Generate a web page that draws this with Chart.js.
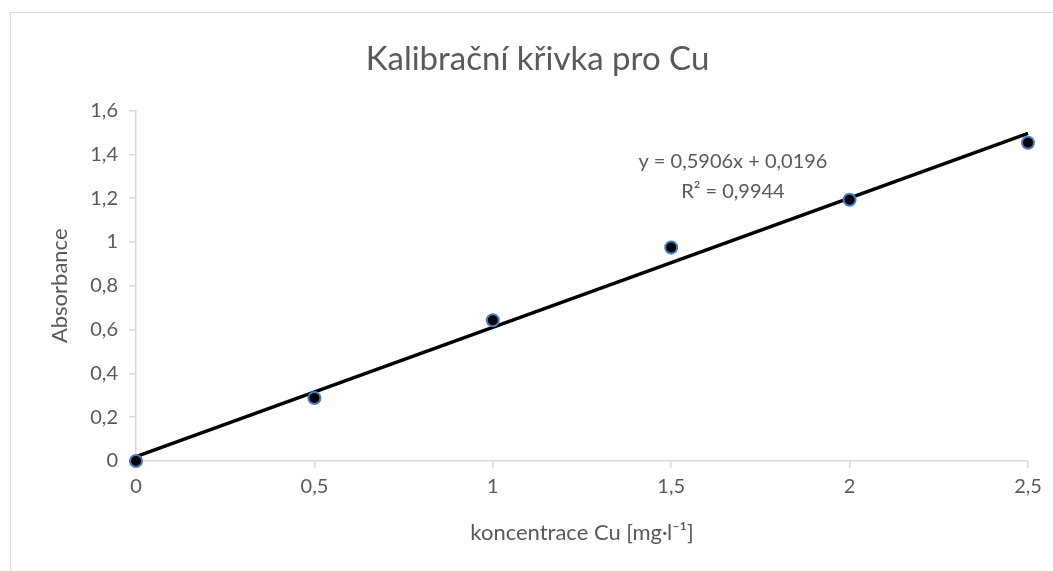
<!DOCTYPE html>
<html lang="cs">
<head>
<meta charset="UTF-8">
<title>Kalibrační křivka pro Cu</title>
<script src="https://cdn.jsdelivr.net/npm/chart.js"></script>
<style>
    html, body { margin: 0; padding: 0; background: #fff; overflow: hidden; }
    #frame {
        position: absolute; left: 10px; top: 12px;
        width: 1060px; height: 580px;
        border: 1px solid #d9d9d9;
    }
    #wrap { position: absolute; left: 0; top: 0; width: 1053px; height: 571px; }
</style>
</head>
<body>
<div id="frame"></div>
<div id="wrap"><canvas id="chart"></canvas></div>
<script>
// measured points
const conc = [0, 0.5, 1, 1.5, 2, 2.5];
const absorb = [0, 0.288, 0.643, 0.975, 1.193, 1.453];
// linear trendline endpoints (y = 0,5906x + 0,0196)
const trendX = [0, 2.5];
const trendY = [0.0196, 1.4961];
const eqLines = ['y = 0,5906x + 0,0196', 'R² = 0,9944'];

const grey = '#595959';
const axisGrey = '#d9d9d9';
const fontFam = 'Lato, "Open Sans", sans-serif';

const eqLabel = {
    id: 'eqLabel',
    afterDatasetsDraw(chart) {
        const { ctx, scales } = chart;
        const cx = scales.x.getPixelForValue(1.673);
        ctx.save();
        ctx.fillStyle = grey;
        ctx.font = '20px ' + fontFam;
        ctx.textAlign = 'center';
        ctx.textBaseline = 'middle';
        ctx.fillText(eqLines[0], cx, scales.y.getPixelForValue(1.367));
        ctx.fillText(eqLines[1], cx, scales.y.getPixelForValue(1.23));
        ctx.restore();
    }
};

new Chart(document.getElementById('chart'), {
    type: 'scatter',
    data: {
        datasets: [
            {
                label: 'trend',
                data: trendX.map((x, i) => ({ x: x, y: trendY[i] })),
                showLine: true,
                borderColor: '#000',
                borderWidth: 3.5,
                pointRadius: 0,
                clip: false,
                order: 2
            },
            {
                label: 'Absorbance',
                data: conc.map((x, i) => ({ x: x, y: absorb[i] })),
                backgroundColor: '#000',
                borderColor: '#4a7bc0',
                borderWidth: 2,
                pointRadius: 6,
                clip: false,
                order: 1
            }
        ]
    },
    options: {
        responsive: true,
        maintainAspectRatio: false,
        animation: false,
        layout: { padding: { left: 47, right: 25, top: 0, bottom: 25 } },
        plugins: {
            legend: { display: false },
            tooltip: { enabled: false },
            title: {
                display: true,
                text: 'Kalibrační křivka pro Cu',
                color: grey,
                font: { family: fontFam, size: 33, weight: 'normal' },
                padding: { top: 40, bottom: 31 }
            }
        },
        scales: {
            x: {
                type: 'linear',
                min: 0, max: 2.5,
                afterFit: s => { s.height = 85; },
                border: { color: axisGrey, width: 1.5 },
                grid: { drawOnChartArea: false, drawTicks: true, tickLength: 7, color: axisGrey, lineWidth: 1.5 },
                ticks: {
                    stepSize: 0.5,
                    color: grey,
                    font: { family: fontFam, size: 20 },
                    padding: 7,
                    callback: v => String(v).replace('.', ',')
                },
                title: {
                    display: true,
                    text: 'koncentrace Cu [mg·l⁻¹]',
                    color: grey,
                    font: { family: fontFam, size: 22 },
                    padding: { top: 10, bottom: 0 }
                }
            },
            y: {
                min: 0, max: 1.6,
                afterFit: s => { s.width = 89; },
                border: { color: axisGrey, width: 1.5 },
                grid: { drawOnChartArea: false, drawTicks: true, tickLength: 7, color: axisGrey, lineWidth: 1.5 },
                ticks: {
                    stepSize: 0.2,
                    color: grey,
                    font: { family: fontFam, size: 20 },
                    padding: 11,
                    callback: v => String(Math.round(v * 10) / 10).replace('.', ',')
                },
                title: {
                    display: true,
                    text: 'Absorbance',
                    color: grey,
                    font: { family: fontFam, size: 22 },
                    padding: { top: 0, bottom: 0 }
                }
            }
        }
    },
    plugins: [eqLabel]
});
</script>
</body>
</html>
